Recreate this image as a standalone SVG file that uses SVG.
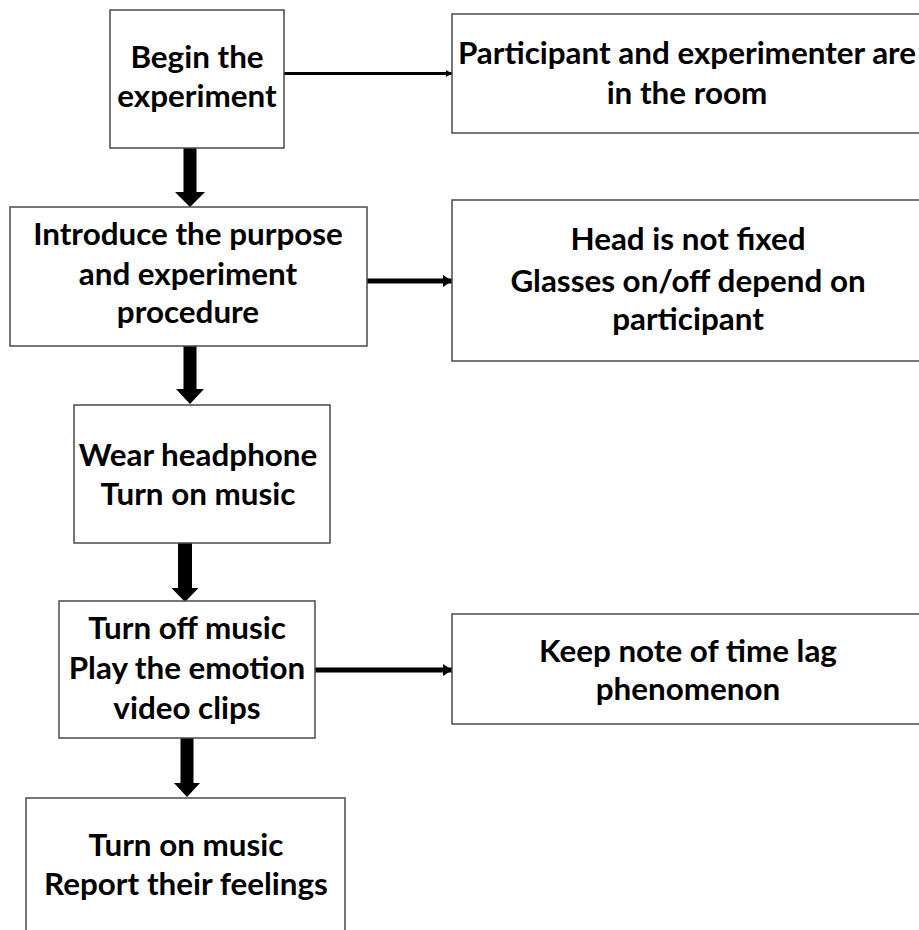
<svg xmlns="http://www.w3.org/2000/svg" width="919" height="930" viewBox="0 0 919 930">
<style>
  .box { fill: #ffffff; stroke: #4a4a4a; stroke-width: 1.5; }
  .t { font-family: "Lato", "Liberation Sans", sans-serif; font-weight: 700; font-size: 31.4px; fill: #000000; text-anchor: middle; }
  .thin { stroke: #000000; stroke-width: 3; fill: none; }
  .mid { stroke: #000000; stroke-width: 5; fill: none; }
  .fat { fill: #000000; stroke: none; }
</style>
<defs>
  <marker id="headS" markerUnits="userSpaceOnUse" markerWidth="8" markerHeight="8" refX="6" refY="4" orient="auto">
    <path d="M0,0.5 L6,4 L0,7.5 Z" fill="#000000"/>
  </marker>
  <marker id="headM" markerUnits="userSpaceOnUse" markerWidth="10" markerHeight="14" refX="9" refY="7" orient="auto">
    <path d="M0,1 L9,7 L0,13 Z" fill="#000000"/>
  </marker>
</defs>
<rect x="0" y="0" width="919" height="930" fill="#ffffff"/>

<g id="connectors">
  <line class="thin" x1="284" y1="73.5" x2="452" y2="73.5" marker-end="url(#headS)"/>
  <line class="mid" x1="367" y1="281" x2="452" y2="281" marker-end="url(#headM)"/>
  <line class="mid" x1="315" y1="670" x2="452" y2="670" marker-end="url(#headM)"/>
  <polygon class="fat" points="183.5,148 196.5,148 196.5,192 205,192 190,207 175,192 183.5,192"/>
  <polygon class="fat" points="183.5,346 196.5,346 196.5,389 204,389 190,404 176,389 183.5,389"/>
  <polygon class="fat" points="178,543 192,543 192,588 198.5,588 185,602 171.5,588 178,588"/>
  <polygon class="fat" points="180.5,738 193.5,738 193.5,783 200,783 187,797 174,783 180.5,783"/>
</g>

<g id="n1">
  <rect class="box" x="110" y="10" width="174" height="138"/>
  <text class="t" x="197" y="68">Begin the</text>
  <text class="t" x="197" y="107">experiment</text>
</g>
<g id="n2">
  <rect class="box" x="452" y="14" width="480" height="119"/>
  <text class="t" x="687" y="64">Participant and experimenter are</text>
  <text class="t" x="687" y="104">in the room</text>
</g>
<g id="n3">
  <rect class="box" x="10" y="207" width="357" height="139"/>
  <text class="t" x="188" y="245">Introduce the purpose</text>
  <text class="t" x="188" y="285">and experiment</text>
  <text class="t" x="188" y="323">procedure</text>
</g>
<g id="n4">
  <rect class="box" x="452" y="200" width="480" height="161"/>
  <text class="t" x="688" y="250">Head is not fixed</text>
  <text class="t" x="688" y="292">Glasses on/off depend on</text>
  <text class="t" x="688" y="330">participant</text>
</g>
<g id="n5">
  <rect class="box" x="74" y="405" width="256" height="138"/>
  <text class="t" x="198" y="466">Wear headphone</text>
  <text class="t" x="198" y="505">Turn on music</text>
</g>
<g id="n6">
  <rect class="box" x="59" y="601" width="256" height="137"/>
  <text class="t" x="187" y="639">Turn off music</text>
  <text class="t" x="187" y="679">Play the emotion</text>
  <text class="t" x="187" y="719">video clips</text>
</g>
<g id="n7">
  <rect class="box" x="452" y="614" width="480" height="110"/>
  <text class="t" x="688" y="662">Keep note of time lag</text>
  <text class="t" x="688" y="700">phenomenon</text>
</g>
<g id="n8">
  <rect class="box" x="26" y="798" width="319" height="150"/>
  <text class="t" x="186" y="856">Turn on music</text>
  <text class="t" x="186" y="895">Report their feelings</text>
</g>
</svg>
